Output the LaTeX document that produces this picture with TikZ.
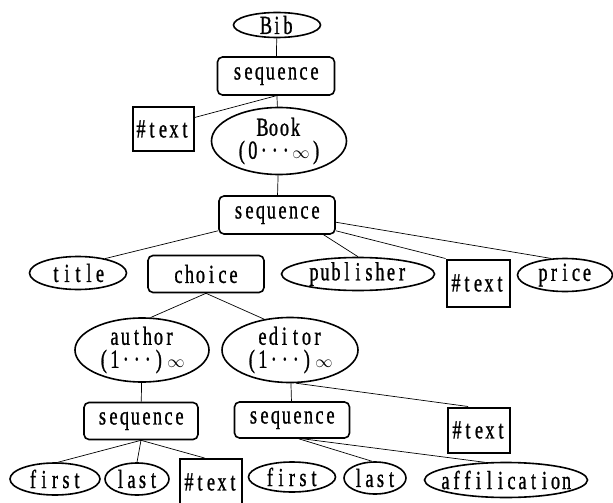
\documentclass[tikz,border=0pt]{standalone}
\usepackage{fontspec}
\setmainfont{Liberation Serif}[FakeStretch=0.7,FakeBold=1]
\usetikzlibrary{shapes.geometric,calc}
\ExplSyntaxOn
\NewDocumentCommand\fw{m}{\tl_map_inline:nn{#1}{\makebox[11pt][c]{##1}}}
\ExplSyntaxOff
\newcommand\infbox{\mbox{\hspace{1pt}\fontsize{19}{19}\selectfont$\infty$\hspace{1pt}}}
\tikzset{
  txt/.style={font=\fontsize{26}{23}\selectfont},
  lbl/.style={txt, inner sep=0pt, align=center},
  ell/.style={ellipse, draw, line width=1.6pt, inner sep=0pt},
  rbox/.style={rectangle, rounded corners=5pt, draw, line width=1.6pt, inner sep=0pt, txt},
  tbox/.style={rectangle, draw, line width=2pt, inner sep=0pt, txt},
  conn/.style={line width=0.7pt}
}
\begin{document}
\begin{tikzpicture}[x=1pt,y=-1pt]
\useasboundingbox (0,0) rectangle (613,503);
% level 0-1
\node[ell, minimum width=87pt, minimum height=25pt, label={[lbl]center:{\fw{Bib}}}] (Bib) at (277,25) {};
\node[rbox, minimum width=117pt, minimum height=38pt] (seq1) at (276,76) {\fw{sequence}};
\node[tbox, minimum width=61pt, minimum height=44pt] (text1) at (163,129) {\fw{\#text}};
\node[ell, minimum width=135pt, minimum height=67pt, label={[lbl]center:{\fw{Book}\\\fw{(0···}\infbox\fw{)}}}] (Book) at (279,141) {};
% level 2
\node[rbox, minimum width=116pt, minimum height=38pt] (seq2) at (277,215) {\fw{sequence}};
\node[ell, minimum width=97pt, minimum height=33pt, label={[lbl]center:{\fw{title}}}] (title) at (78,273) {};
\node[rbox, minimum width=116pt, minimum height=37pt] (choice) at (206,274) {\fw{choice}};
\node[ell, minimum width=153pt, minimum height=33pt, label={[lbl]center:{\fw{publisher}}}] (publisher) at (358,274) {};
\node[tbox, minimum width=63pt, minimum height=47pt] (text2) at (478,283) {\fw{\#text}};
\node[ell, minimum width=95pt, minimum height=33pt, label={[lbl]center:{\fw{price}}}] (price) at (565,275) {};
% level 3
\node[ell, minimum width=134pt, minimum height=64pt, label={[lbl]center:{\fw{author}\\\fw{(1···)}\hspace{2pt}\infbox}}] (author) at (142,350) {};
\node[ell, minimum width=136pt, minimum height=65pt, label={[lbl]center:{\fw{editor}\\\fw{(1···)}\hspace{2pt}\infbox}}] (editor) at (290,350) {};
% level 4
\node[rbox, minimum width=114pt, minimum height=37pt] (seq3) at (141,421) {\fw{sequence}};
\node[rbox, minimum width=115pt, minimum height=36pt] (seq4) at (292,420) {\fw{sequence}};
\node[tbox, minimum width=62pt, minimum height=45pt] (text3) at (479,430) {\fw{\#text}};
% level 5
\node[ell, minimum width=90pt, minimum height=32pt, label={[lbl]center:{\fw{first}}}] (first1) at (55,479) {};
\node[ell, minimum width=64pt, minimum height=32pt, label={[lbl]center:{\fw{last}}}] (last1) at (137,479) {};
\node[tbox, minimum width=62pt, minimum height=46pt] (text4) at (211,482) {\fw{\#text}};
\node[ell, minimum width=87pt, minimum height=30pt, label={[lbl]center:{\fw{first}}}] (first2) at (292,477) {};
\node[ell, minimum width=62pt, minimum height=32pt, label={[lbl]center:{\fw{last}}}] (last2) at (375,478) {};
\node[ell, minimum width=163pt, minimum height=35pt, label={[lbl]center:{\fw{affilication}}}] (affil) at (506,480) {};
% connectors
\draw[conn] (Bib) -- (seq1);
\draw[conn] (seq1) -- (Book);
\draw[conn] (seq1.south) -- (text1.20);
\draw[conn] (Book) -- (seq2);
\draw[conn] (seq2.-165) -- (title.28);
\draw[conn] (seq2.-23) -- (publisher.north);
\draw[conn] (seq2.-15) -- (text2.north west);
\draw[conn] (seq2.-7) -- (price.130);
\draw[conn] (choice.south) -- (author.75);
\draw[conn] (choice.south) -- (editor.130);
\draw[conn] (author) -- (seq3);
\draw[conn] (editor) -- (seq4);
\draw[conn] (editor.-80) -- (text3.115);
\draw[conn] (seq3.south) -- (first1.80);
\draw[conn] (seq3.south) -- (last1.north);
\draw[conn] (seq3.south) -- (text4.105);
\draw[conn] (seq4.-70) -- (last2.100);
\draw[conn] (seq4.-60) -- (affil.140);
\end{tikzpicture}
\end{document}
